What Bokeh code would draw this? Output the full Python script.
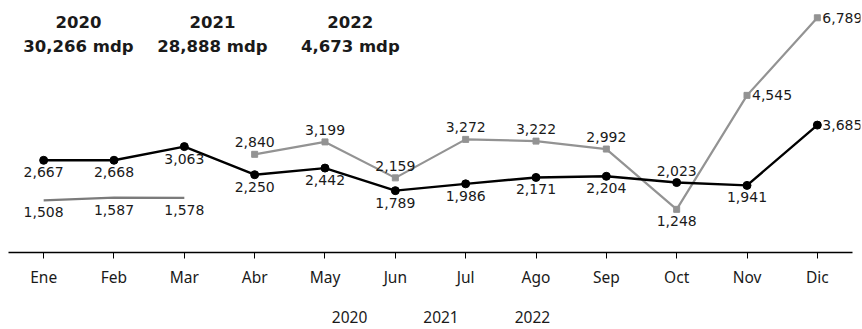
from bokeh.plotting import figure
from bokeh.layouts import column
from bokeh.models import ColumnDataSource, Legend, LegendItem, Label, LabelSet, Range1d, FactorRange
from bokeh.core.properties import value
from bokeh.embed import file_html
from bokeh.resources import INLINE

# Monthly amounts (mdp)
months = ["Ene", "Feb", "Mar", "Abr", "May", "Jun", "Jul", "Ago", "Sep", "Oct", "Nov", "Dic"]

months_2020 = ["Abr", "May", "Jun", "Jul", "Ago", "Sep", "Oct", "Nov", "Dic"]
values_2020 = [2840, 3199, 2159, 3272, 3222, 2992, 1248, 4545, 6789]
pos_2020 = ["above", "above", "above", "above", "above", "above", "below", "right", "right"]

months_2021 = months
values_2021 = [2667, 2668, 3063, 2250, 2442, 1789, 1986, 2171, 2204, 2023, 1941, 3685]
pos_2021 = ["below", "below", "below", "below", "below", "below", "below", "below", "below",
            "above", "below", "right"]

months_2022 = ["Ene", "Feb", "Mar"]
values_2022 = [1508, 1587, 1578]
pos_2022 = ["below", "below", "below"]

totals_years = ["2020", "2021", "2022"]
totals_text = ["30,266 mdp", "28,888 mdp", "4,673 mdp"]
series_names = ["2020", "2021", "2022"]

C2020 = "#939393"
C2021 = "#000000"
C2022 = "#7b7b7b"
FONT = "DejaVu Sans"
TEXT = "#1a1a1a"


def label_source(xs, ys, positions):
    xo, yo, align, base = [], [], [], []
    for pos in positions:
        if pos == "above":
            xo.append(0); yo.append(7); align.append("center"); base.append("bottom")
        elif pos == "below":
            xo.append(0); yo.append(-7); align.append("center"); base.append("top")
        else:
            xo.append(5); yo.append(0); align.append("left"); base.append("middle")
    return ColumnDataSource(dict(
        x=xs, y=ys, text=[f"{v:,}" for v in ys],
        xo=xo, yo=yo, align=align, base=base,
    ))


p = figure(
    x_range=FactorRange(*months, range_padding=0.1137, range_padding_units="absolute"),
    y_range=Range1d(0, 7000),
    width=862, height=290,
    min_border_left=0, min_border_right=2, min_border_top=10, min_border_bottom=36,
    output_backend="svg", toolbar_location=None,
    background_fill_color="white", border_fill_color="white",
)
p.outline_line_color = None
p.xgrid.grid_line_color = None
p.ygrid.grid_line_color = None
p.yaxis.visible = False

xa = p.xaxis[0]
xa.bounds = (0, 12)
xa.axis_line_color = "black"
xa.axis_line_width = 1.5
xa.major_tick_line_color = "black"
xa.major_tick_out = 6
xa.major_tick_in = 0
xa.minor_tick_line_color = None
xa.major_label_text_font = "Noto Sans"
xa.major_label_text_font_size = "15.5px"
xa.major_label_text_color = TEXT
xa.major_label_standoff = 7

# 2020
p.line(months_2020, values_2020, line_color=C2020, line_width=2.2)
p.scatter(months_2020, values_2020, marker="square", size=6, color=C2020)
# 2022
p.line(months_2022, values_2022, line_color=C2022, line_width=2.2)
# 2021
p.line(months_2021, values_2021, line_color=C2021, line_width=2.4)
p.scatter(months_2021, values_2021, marker="circle", size=8, color=C2021)

# Value labels next to each point
for xs, ys, pos in [(months_2020, values_2020, pos_2020),
                    (months_2021, values_2021, pos_2021),
                    (months_2022, values_2022, pos_2022)]:
    src = label_source(xs, ys, pos)
    p.add_layout(LabelSet(x="x", y="y", text="text", source=src,
                          x_offset="xo", y_offset="yo",
                          text_align="align", text_baseline="base",
                          text_font=value(FONT), text_font_size="14px", text_color=TEXT))

# Yearly totals header
header_x = [0.995, 2.90, 4.86]
for hx, yr, tot in zip(header_x, totals_years, totals_text):
    p.add_layout(Label(x=hx, y=6680, text=yr, text_align="center", text_baseline="middle",
                       text_font=FONT, text_font_size="16.5px", text_font_style="bold",
                       text_color=TEXT))
    p.add_layout(Label(x=hx, y=5960, text=tot, text_align="center", text_baseline="middle",
                       text_font=FONT, text_font_size="16.5px", text_font_style="bold",
                       text_color=TEXT))

# Legend strip under the chart, with matching line/marker styles
pl = figure(
    width=862, height=39, x_axis_type=None, y_axis_type=None,
    x_range=Range1d(0, 1), y_range=Range1d(0, 1),
    min_border_left=0, min_border_right=2, min_border_top=0, min_border_bottom=0,
    output_backend="svg", toolbar_location=None,
)
pl.outline_line_color = None
pl.xgrid.grid_line_color = None
pl.ygrid.grid_line_color = None
k20 = pl.line([], [], line_color=C2020, line_width=2.2)
m20 = pl.scatter([], [], marker="square", size=6, color=C2020)
k21 = pl.line([], [], line_color=C2021, line_width=2.4)
m21 = pl.scatter([], [], marker="circle", size=8, color=C2021)
k22 = pl.line([], [], line_color=C2022, line_width=2.2)

legend = Legend(
    items=[
        LegendItem(label=series_names[0], renderers=[k20, m20]),
        LegendItem(label=series_names[1], renderers=[k21, m21]),
        LegendItem(label=series_names[2], renderers=[k22]),
    ],
    orientation="horizontal", location="bottom_center",
    label_text_font="Noto Sans", label_text_font_size="15.5px", label_text_color=TEXT,
    border_line_color=None, background_fill_alpha=0,
    glyph_width=20, glyph_height=16, label_height=16,
    label_standoff=2, spacing=34, padding=0, margin=1,
)
pl.add_layout(legend)

open("out.html", "w").write(file_html(column(p, pl), INLINE))
